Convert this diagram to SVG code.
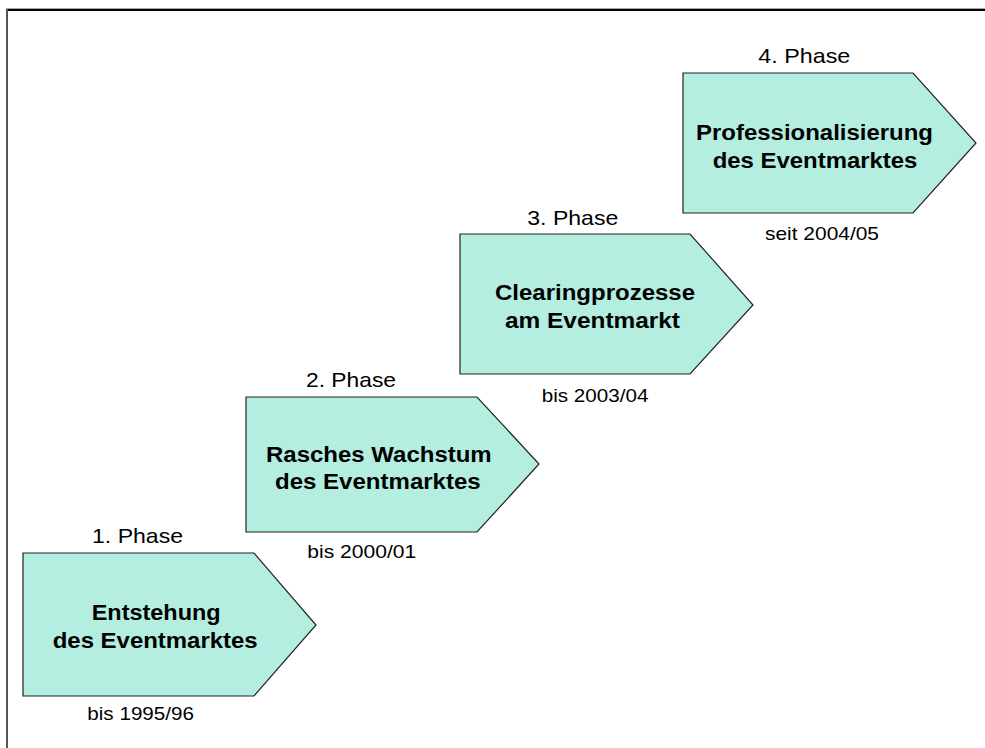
<svg xmlns="http://www.w3.org/2000/svg" width="985" height="748" viewBox="0 0 985 748">
<style>
.shape{fill:#b3eee0;stroke:#222;stroke-width:1.2}
.title{font-family:"Liberation Sans",Arial,sans-serif;font-weight:bold;font-size:22px;fill:#000}
.phase{font-family:"Liberation Sans",Arial,sans-serif;font-size:21px;fill:#000}
.date{font-family:"Liberation Sans",Arial,sans-serif;font-size:18.5px;fill:#000}
</style>
<rect width="985" height="748" fill="#fff"/>
<g id="frame">
<line x1="6" y1="8.5" x2="985" y2="8.5" stroke="#aaa" stroke-width="1"/>
<line x1="6" y1="10" x2="985" y2="10" stroke="#000" stroke-width="2"/>
<line x1="7" y1="9" x2="7" y2="748" stroke="#555" stroke-width="2"/>
</g>
<g id="phase1">
<text class="phase" x="92" y="542.5" textLength="91" lengthAdjust="spacingAndGlyphs">1. Phase</text>
<polygon class="shape" points="23,553 254,553 316,625 254,696 23,696"/>
<text class="title" x="91.7" y="620" textLength="129" lengthAdjust="spacingAndGlyphs">Entstehung</text>
<text class="title" x="52.7" y="648" textLength="205" lengthAdjust="spacingAndGlyphs">des Eventmarktes</text>
<text class="date" x="87.3" y="720" textLength="106.7" lengthAdjust="spacingAndGlyphs">bis 1995/96</text>
</g>
<g id="phase2">
<text class="phase" x="306" y="387.3" textLength="90" lengthAdjust="spacingAndGlyphs">2. Phase</text>
<polygon class="shape" points="246,397 477,397 539,464 477,532 246,532"/>
<text class="title" x="266" y="461.7" textLength="225.7" lengthAdjust="spacingAndGlyphs">Rasches Wachstum</text>
<text class="title" x="275" y="489.3" textLength="205.7" lengthAdjust="spacingAndGlyphs">des Eventmarktes</text>
<text class="date" x="307.3" y="558" textLength="109" lengthAdjust="spacingAndGlyphs">bis  2000/01</text>
</g>
<g id="phase3">
<text class="phase" x="527.3" y="225" textLength="91" lengthAdjust="spacingAndGlyphs">3. Phase</text>
<polygon class="shape" points="460,234 690,234 753,305 690,374 460,374"/>
<text class="title" x="495" y="300" textLength="200" lengthAdjust="spacingAndGlyphs">Clearingprozesse</text>
<text class="title" x="505" y="328.3" textLength="175" lengthAdjust="spacingAndGlyphs">am Eventmarkt</text>
<text class="date" x="541.7" y="401.7" textLength="106.7" lengthAdjust="spacingAndGlyphs">bis 2003/04</text>
</g>
<g id="phase4">
<text class="phase" x="758.3" y="62.7" textLength="92" lengthAdjust="spacingAndGlyphs">4. Phase</text>
<polygon class="shape" points="683,73 913,73 976,143 913,213 683,213"/>
<text class="title" x="696" y="140" textLength="237" lengthAdjust="spacingAndGlyphs">Professionalisierung</text>
<text class="title" x="712.7" y="168.3" textLength="204.7" lengthAdjust="spacingAndGlyphs">des Eventmarktes</text>
<text class="date" x="765" y="240" textLength="114" lengthAdjust="spacingAndGlyphs">seit 2004/05</text>
</g>
<g id="connectors"></g>
</svg>
